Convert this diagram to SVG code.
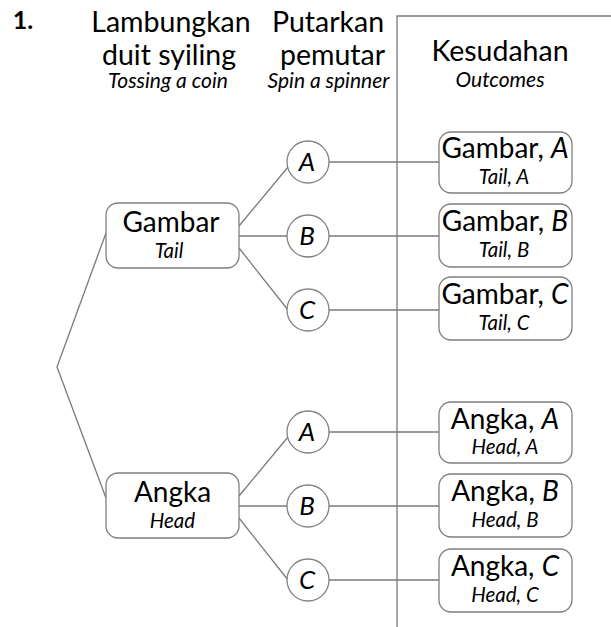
<svg xmlns="http://www.w3.org/2000/svg" width="611" height="627" viewBox="0 0 611 627">
<style>
text{font-family:Lato,"Open Sans","Liberation Sans",sans-serif;fill:#000;text-anchor:middle}
.h{font-size:28.5px}
.hs{font-size:21px;font-style:italic}
.m{font-size:28px}
.s{font-size:20.5px;font-style:italic}
.l{font-size:26px;font-style:italic}
.box{fill:#fff;stroke:#808080;stroke-width:1.3}
.c{fill:#fff;stroke:#808080;stroke-width:1.3}
.ln{stroke:#7a7a7a;stroke-width:1.3;fill:none}
</style>
<rect width="611" height="627" fill="#fff"/>
<g id="headers">
<text x="23" y="29" style="font-size:25px;font-weight:bold">1.</text>
<text class="h" x="171" y="32">Lambungkan</text>
<text class="h" x="169" y="65">duit syiling</text>
<text class="hs" x="168" y="88">Tossing a coin</text>
<text class="h" x="328" y="32">Putarkan</text>
<text class="h" x="332.5" y="65">pemutar</text>
<text class="hs" x="328.5" y="88">Spin a spinner</text>
<text class="h" x="500" y="61">Kesudahan</text>
<text class="hs" x="500" y="87">Outcomes</text>
</g>
<g id="connectors">
<polyline class="ln" points="397,627 397,16 611,16"/>
<polyline class="ln" points="106,233 57,367 106,498"/>
<line class="ln" x1="239" y1="226" x2="288" y2="167"/>
<line class="ln" x1="239" y1="236" x2="287" y2="236"/>
<line class="ln" x1="239" y1="248" x2="288" y2="310"/>
<line class="ln" x1="239" y1="496" x2="288" y2="437"/>
<line class="ln" x1="239" y1="506" x2="287" y2="506"/>
<line class="ln" x1="239" y1="518" x2="288" y2="580"/>
<line class="ln" x1="329" y1="162" x2="439" y2="162"/>
<line class="ln" x1="329" y1="236" x2="439" y2="236"/>
<line class="ln" x1="329" y1="310" x2="439" y2="310"/>
<line class="ln" x1="329" y1="432" x2="439" y2="432"/>
<line class="ln" x1="329" y1="506" x2="439" y2="506"/>
<line class="ln" x1="329" y1="580" x2="439" y2="580"/>
</g>
<g id="gambar">
<rect class="box" x="106" y="203" width="133" height="65" rx="12"/>
<text class="m" x="171" y="232">Gambar</text>
<text class="s" x="169" y="258">Tail</text>
</g>
<g id="angka">
<rect class="box" x="106" y="473" width="133" height="65" rx="12"/>
<text class="m" x="172.5" y="502">Angka</text>
<text class="s" x="172.5" y="528">Head</text>
</g>
<g id="gA"><circle class="c" cx="308" cy="162" r="21"/><text class="l" x="307" y="171">A</text></g>
<g id="gB"><circle class="c" cx="308" cy="236" r="21"/><text class="l" x="307" y="245">B</text></g>
<g id="gC"><circle class="c" cx="308" cy="310" r="21"/><text class="l" x="307" y="319">C</text></g>
<g id="aA"><circle class="c" cx="308" cy="432" r="21"/><text class="l" x="307" y="441">A</text></g>
<g id="aB"><circle class="c" cx="308" cy="506" r="21"/><text class="l" x="307" y="515">B</text></g>
<g id="aC"><circle class="c" cx="308" cy="580" r="21"/><text class="l" x="307" y="589">C</text></g>
<g id="oGA"><rect class="box" x="439" y="132" width="133" height="61" rx="12"/><text class="m" x="505" y="158">Gambar, <tspan font-style="italic">A</tspan></text><text class="s" x="504" y="184">Tail, A</text></g>
<g id="oGB"><rect class="box" x="439" y="204" width="133" height="63" rx="12"/><text class="m" x="505" y="231">Gambar, <tspan font-style="italic">B</tspan></text><text class="s" x="504" y="257">Tail, B</text></g>
<g id="oGC"><rect class="box" x="439" y="277" width="133" height="63" rx="12"/><text class="m" x="505" y="304">Gambar, <tspan font-style="italic">C</tspan></text><text class="s" x="504" y="330">Tail, C</text></g>
<g id="oAA"><rect class="box" x="439" y="402" width="133" height="61" rx="12"/><text class="m" x="505" y="429">Angka, <tspan font-style="italic">A</tspan></text><text class="s" x="505" y="454">Head, A</text></g>
<g id="oAB"><rect class="box" x="439" y="474" width="133" height="63" rx="12"/><text class="m" x="505" y="501">Angka, <tspan font-style="italic">B</tspan></text><text class="s" x="505" y="527">Head, B</text></g>
<g id="oAC"><rect class="box" x="439" y="549" width="133" height="63" rx="12"/><text class="m" x="505" y="576">Angka, <tspan font-style="italic">C</tspan></text><text class="s" x="505" y="602">Head, C</text></g>
</svg>
